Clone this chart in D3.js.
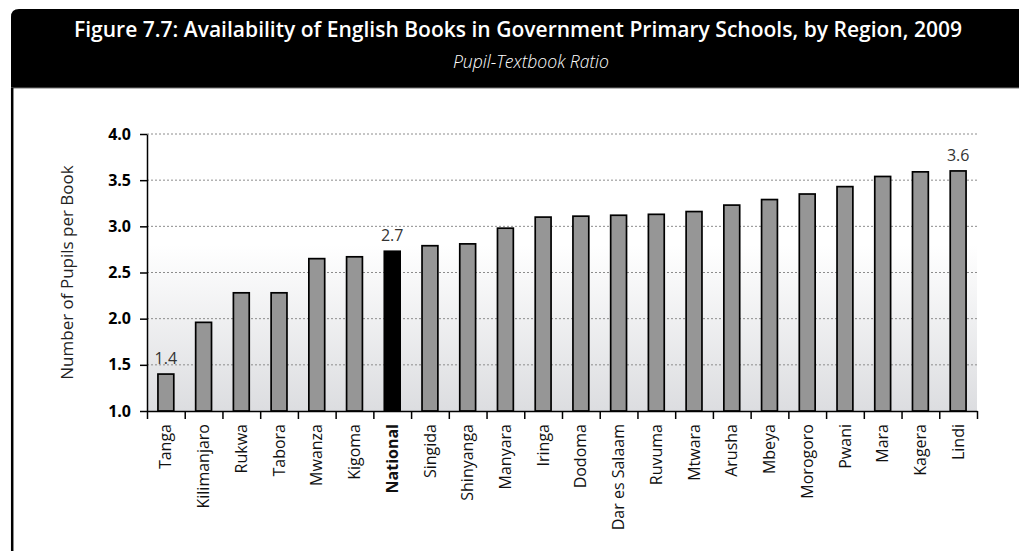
<!DOCTYPE html>
<html>
<head>
<meta charset="utf-8">
<script src="https://cdn.jsdelivr.net/npm/d3@7"></script>
<style>
body { margin: 0; background: #fff; }
text { font-family: "Open Sans", "Noto Sans", sans-serif; }
</style>
</head>
<body>
<div id="chart"></div>
<script>
// data
var regions = ["Tanga", "Kilimanjaro", "Rukwa", "Tabora", "Mwanza", "Kigoma", "National",
    "Singida", "Shinyanga", "Manyara", "Iringa", "Dodoma", "Dar es Salaam", "Ruvuma",
    "Mtwara", "Arusha", "Mbeya", "Morogoro", "Pwani", "Mara", "Kagera", "Lindi"]
var ratio = [1.40, 1.96, 2.28, 2.28, 2.65, 2.67, 2.73,
    2.79, 2.81, 2.98, 3.10, 3.11, 3.12, 3.13,
    3.16, 3.23, 3.29, 3.35, 3.43, 3.54, 3.59, 3.60]
var yTicks = [1.0, 1.5, 2.0, 2.5, 3.0, 3.5, 4.0]
var shownLabels = ["Tanga", "National", "Lindi"]

var title = "Figure 7.7: Availability of English Books in Government Primary Schools, by Region, 2009"
var subtitle = "Pupil-Textbook Ratio"
var yTitle = "Number of Pupils per Book"

var W = 1019, H = 551
var margin = {top: 134, left: 147, right: 1019 - 977, bottom: 551 - 411}
var w = W - margin.left - margin.right
var h = H - margin.top - margin.bottom

var data = regions.map(function (r, i) { return {name: r, v: ratio[i]} })

var svg = d3.select("#chart")
    .append("svg")
    .attr("width", W)
    .attr("height", H)

// header box with the rounded corner
var r = 8
svg.append("path")
    .attr("d", "M11," + (9 + r) + " Q11,9 " + (11 + r) + ",9 L1019,9 L1019,88 L11,88 Z")
    .attr("fill", "#000")
svg.append("line")
    .attr("x1", 11).attr("x2", 1019).attr("y1", 88).attr("y2", 88)
    .style("stroke", "#777").style("stroke-width", 1)
svg.append("line")
    .attr("x1", 12.2).attr("x2", 12.2).attr("y1", 88).attr("y2", H)
    .style("stroke", "#000").style("stroke-width", 2.5)

svg.append("text")
    .attr("x", 518).attr("y", 37)
    .attr("text-anchor", "middle")
    .attr("textLength", 888)
    .attr("lengthAdjust", "spacingAndGlyphs")
    .style("font-size", "22px")
    .style("font-weight", 600)
    .style("fill", "#fff")
    .text(title)

svg.append("text")
    .attr("x", 531).attr("y", 68)
    .attr("text-anchor", "middle")
    .attr("textLength", 156)
    .attr("lengthAdjust", "spacingAndGlyphs")
    .style("font-size", "19px")
    .style("font-style", "italic")
    .style("font-weight", 300)
    .style("fill", "#fff")
    .text(subtitle)

var defs = svg.append("defs")
var grad = defs.append("linearGradient")
    .attr("id", "bg").attr("x1", 0).attr("x2", 0).attr("y1", 0).attr("y2", 1)
grad.append("stop").attr("offset", "0.4").attr("stop-color", "#ffffff")
grad.append("stop").attr("offset", "1").attr("stop-color", "#dcdde0")

var vis = svg.append("g")
    .attr("transform", "translate(" + margin.left + "," + margin.top + ")")

var x = d3.scaleBand()
    .domain(regions)
    .range([0, w])
    .paddingInner(0.58)
    .paddingOuter(0.29)
var xTick = d3.scaleLinear().domain([0, regions.length]).range([0, w])
var y = d3.scaleLinear().domain([1, 4]).range([h, 0])

vis.append("rect")
    .attr("width", w).attr("height", h)
    .attr("fill", "url(#bg)")

// dotted gridlines
vis.selectAll(".grid")
    .data(yTicks.slice(1))
    .enter()
    .append("line")
    .attr("class", "grid")
    .attr("x1", 0).attr("x2", w)
    .attr("y1", function (d) { return y(d) })
    .attr("y2", function (d) { return y(d) })
    .style("stroke", "#8c8c8c")
    .style("stroke-width", 1)
    .style("stroke-dasharray", "2,2")

vis.selectAll(".bar")
    .data(data)
    .enter()
    .append("rect")
    .attr("class", "bar")
    .attr("x", function (d) { return x(d.name) })
    .attr("y", function (d) { return y(d.v) })
    .attr("width", x.bandwidth())
    .attr("height", function (d) { return h - y(d.v) })
    .attr("fill", function (d) { return d.name == "National" ? "#000" : "#969696" })
    .style("stroke", "#000")
    .style("stroke-width", 1.7)

vis.selectAll(".val")
    .data(data.filter(function (d) { return shownLabels.indexOf(d.name) >= 0 }))
    .enter()
    .append("text")
    .attr("class", "val")
    .attr("x", function (d) { return x(d.name) + x.bandwidth() / 2 })
    .attr("y", function (d) { return y(d.v) - 10 })
    .attr("text-anchor", "middle")
    .style("font-size", "16px")
    .style("fill", "#333")
    .text(function (d) { return d3.format(".1f")(d.v) })

// y axis
var yAxis = vis.append("g")
    .call(d3.axisLeft(y).tickValues(yTicks).tickFormat(d3.format(".1f")).tickSize(7).tickSizeOuter(0).tickPadding(9))
yAxis.selectAll("path, line").style("stroke", "#000").style("stroke-width", 1.5)
yAxis.selectAll("text")
    .style("font-size", "16px")
    .style("font-weight", "bold")
    .style("fill", "#000")

// x axis: ticks between categories
var xAxis = vis.append("g")
    .attr("transform", "translate(0," + h + ")")
    .call(d3.axisBottom(xTick).tickValues(d3.range(regions.length + 1)).tickFormat("").tickSize(8).tickSizeOuter(0))
xAxis.selectAll("path, line").style("stroke", "#000").style("stroke-width", 1.5)

var xLab = vis.append("g")
    .attr("transform", "translate(0," + h + ")")
    .call(d3.axisBottom(x).tickSize(0).tickPadding(0))
xLab.select(".domain").remove()
xLab.selectAll("text")
    .attr("transform", "rotate(-90)")
    .attr("x", -13)
    .attr("y", 0)
    .attr("dy", "0.35em")
    .attr("text-anchor", "end")
    .style("font-size", "16px")
    .style("fill", "#111")
    .style("font-weight", function (d) { return d == "National" ? "bold" : "normal" })

svg.append("text")
    .attr("transform", "translate(73," + (margin.top + h / 2) + ") rotate(-90)")
    .attr("text-anchor", "middle")
    .style("font-size", "17px")
    .style("fill", "#222")
    .text(yTitle)
</script>
</body>
</html>
